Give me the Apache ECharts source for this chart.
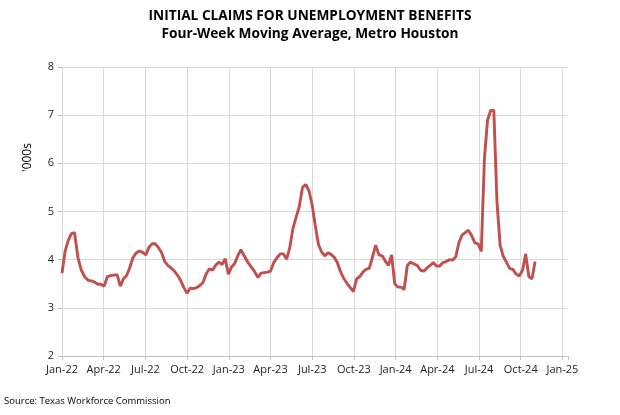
<!DOCTYPE html>
<html>
<head>
<meta charset="utf-8">
<script src="https://cdn.jsdelivr.net/npm/echarts@6/dist/echarts.min.js"></script>
<style>
html,body{margin:0;padding:0;background:#fff;}
#c{width:620px;height:415px;}
</style>
</head>
<body>
<div id="c"></div>
<script>
// Weekly observations, starting week ending 2022-01-01
const startDate = '2022-01-01';
const claimsValues = [
 3.72,4.18,4.40,4.54,4.56,4.05,3.78,3.64,3.57,3.56,
 3.53,3.49,3.49,3.45,3.65,3.67,3.68,3.69,3.45,3.60,
 3.67,3.83,4.04,4.14,4.18,4.15,4.10,4.26,4.33,4.33,
 4.25,4.15,3.96,3.88,3.83,3.77,3.68,3.57,3.42,3.30,
 3.41,3.40,3.42,3.46,3.52,3.70,3.81,3.78,3.89,3.95,
 3.90,4.02,3.70,3.85,3.92,4.08,4.21,4.08,3.95,3.85,
 3.75,3.63,3.72,3.73,3.74,3.76,3.94,4.04,4.12,4.12,
 4.01,4.25,4.65,4.88,5.10,5.50,5.56,5.43,5.13,4.70,
 4.31,4.16,4.08,4.14,4.11,4.05,3.94,3.75,3.61,3.51,
 3.42,3.34,3.60,3.65,3.74,3.80,3.82,4.05,4.30,4.10,
 4.08,3.97,3.88,4.10,3.50,3.43,3.43,3.38,3.88,3.95,
 3.91,3.88,3.78,3.76,3.83,3.88,3.94,3.87,3.87,3.94,
 3.96,4.00,3.99,4.06,4.35,4.51,4.56,4.61,4.50,4.35,
 4.33,4.17,6.10,6.90,7.10,7.10,5.20,4.30,4.07,3.95,
 3.82,3.80,3.70,3.66,3.78,4.12,3.65,3.60,3.96
];
const quarterLabels = ['Jan','Apr','Jul','Oct'];
const yTicks = [2,3,4,5,6,7,8];

function monthPos(d){
  const y = d.getUTCFullYear(), m = d.getUTCMonth(), day = d.getUTCDate();
  const dim = new Date(Date.UTC(y, m+1, 0)).getUTCDate();
  return (y-2022)*12 + m + (day-1)/dim;
}
const t0 = new Date(startDate + 'T00:00:00Z').getTime();
const seriesData = claimsValues.map((v,i)=>[monthPos(new Date(t0 + i*7*86400000)), v]);

const chart = echarts.init(document.getElementById('c'), null, {renderer:'canvas'});
const font = 'Open Sans';
chart.setOption({
  animation:false,
  backgroundColor:'#fff',
  title:[
    {text:'INITIAL CLAIMS FOR UNEMPLOYMENT BENEFITS', left:'center', top:4,
     textStyle:{fontFamily:font, fontSize:13.7, fontWeight:'bold', color:'#000'}},
    {text:'Four-Week Moving Average, Metro Houston', left:'center', top:22,
     textStyle:{fontFamily:font, fontSize:13.7, fontWeight:'bold', color:'#000'}}
  ],
  graphic:[
    {type:'text', left:4, top:396, style:{text:'Source: Texas Workforce Commission', fontFamily:font, fontSize:9.5, fill:'#000'}},
    {type:'text', x:22, y:172, rotation:Math.PI/2, style:{text:"'000s", fontFamily:font, fontSize:12, fill:'#000'}}
  ],
  grid:{left:62, right:52, top:67, bottom:59, containLabel:false},
  xAxis:{
    type:'value', min:0, max:36.4, interval:3,
    axisLine:{show:true, lineStyle:{color:'#bfbfbf'}},
    axisTick:{show:true, length:4, lineStyle:{color:'#bfbfbf'}},
    splitLine:{show:true, showMaxLine:false, lineStyle:{color:'#d9d9d9', width:1}},
    axisLabel:{fontFamily:font, fontSize:11, color:'#222', margin:8,
      formatter:function(v){
        if (Math.abs(v/3 - Math.round(v/3))>1e-6) return '';
        const q = Math.round(v/3);
        return quarterLabels[q%4] + '-' + (22 + Math.floor(q/4));
      }}
  },
  yAxis:{
    type:'value', min:yTicks[0], max:yTicks[yTicks.length-1], interval:1,
    axisLine:{show:true, lineStyle:{color:'#d9d9d9'}},
    axisTick:{show:true, length:4, lineStyle:{color:'#bfbfbf'}},
    splitLine:{show:true, lineStyle:{color:'#d9d9d9', width:1}},
    axisLabel:{fontFamily:font, fontSize:11, color:'#222', margin:8}
  },
  series:[{
    type:'line', data:seriesData, showSymbol:false, symbol:'none',
    lineStyle:{color:'#c0504d', width:2.9}, smooth:false
  }]
});
</script>
</body>
</html>
